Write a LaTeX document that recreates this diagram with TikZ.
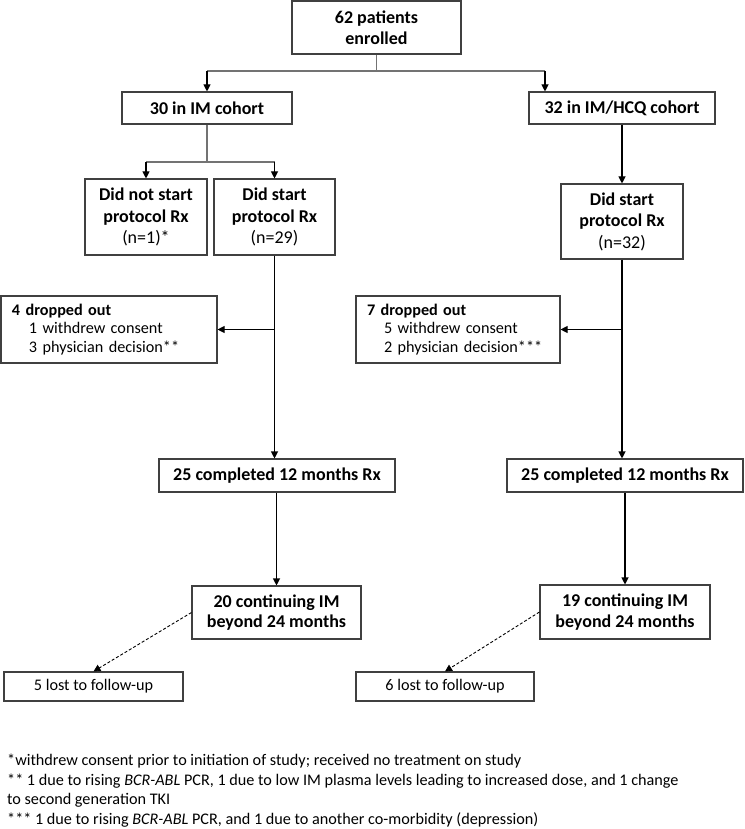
\documentclass[tikz,border=0pt]{standalone}
\usepackage{fontspec}
\setmainfont{Carlito}
\usetikzlibrary{arrows.meta}
\begin{document}
\begin{tikzpicture}[x=1pt,y=1pt,
  box/.style={draw=black!75, line width=1.1pt, align=center, inner sep=2pt, font=\fontsize{18}{21.5}\selectfont\bfseries},
  smallbox/.style={draw=black!75, line width=1.1pt, align=center, inner sep=2pt, font=\fontsize{16.2}{18.5}\selectfont},
  dropbox/.style={draw=black!75, line width=1.1pt, align=left, inner xsep=11pt, inner ysep=2pt, font=\fontsize{16.2}{18.5}\selectfont},
  conn/.style={line width=1.1pt, black},
  gconn/.style={line width=1.1pt, black!55},
  arr/.style={conn, -{Triangle[length=7pt,width=7pt]}},
  darr/.style={line width=0.9pt, black, dash pattern=on 3pt off 2pt, -{Triangle[length=7pt,width=7pt]}},
  foot/.style={anchor=north west, align=left, inner sep=0pt, font=\fontsize{16.2}{19.5}\selectfont}
]
\useasboundingbox (0,0) rectangle (744,-829);

\node[box, minimum width=169pt, minimum height=53pt] (top) at (376.5,-27.5) {62 patients\\enrolled};
\node[box, minimum width=170pt, minimum height=32pt] (imc) at (207,-108) {30 in IM cohort};
\node[box, minimum width=186pt, minimum height=32pt] (hcq) at (622,-108) {32 in IM/HCQ cohort};

\node[box, minimum width=122pt, minimum height=76pt] (dns) at (146,-217) {Did not start\\protocol Rx\\{\mdseries (n=1)*}};
\node[box, minimum width=121pt, minimum height=76pt] (ds1) at (274.5,-217) {Did start\\protocol Rx\\{\mdseries (n=29)}};
\node[box, minimum width=122pt, minimum height=75pt] (ds2) at (622,-221.5) {Did start\\protocol Rx\\{\mdseries (n=32)}};

\node[dropbox, text width=194pt, minimum height=67pt] (drop1) at (109,-329.5) {\textbf{4 dropped out}\\\hspace*{17pt}1 withdrew consent\\\hspace*{17pt}3 physician decision**};
\node[dropbox, text width=182pt, minimum height=67pt] (drop2) at (458,-329.5) {\textbf{7 dropped out}\\\hspace*{17pt}5 withdrew consent\\\hspace*{17pt}2 physician decision***};

\node[box, minimum width=236pt, minimum height=33pt] (c1) at (277,-475.5) {25 completed 12 months Rx};
\node[box, minimum width=236pt, minimum height=33pt] (c2) at (625,-475.5) {25 completed 12 months Rx};

\node[box, font=\fontsize{18}{20.7}\selectfont\bfseries, minimum width=169pt, minimum height=53pt] (ct1) at (276.5,-612.5) {20 continuing IM\\beyond 24 months};
\node[box, font=\fontsize{18}{20.7}\selectfont\bfseries, minimum width=170pt, minimum height=54pt] (ct2) at (625,-612) {19 continuing IM\\beyond 24 months};

\node[smallbox, minimum width=179pt, minimum height=29pt] (lost1) at (93.5,-686.5) {5 lost to follow-up};
\node[smallbox, minimum width=178pt, minimum height=29pt] (lost2) at (445,-686.5) {6 lost to follow-up};

\node[foot] (fn) at (7,-754) {*withdrew consent prior to initiation of study; received no treatment on study\\
** 1 due to rising \textit{BCR-ABL} PCR, 1 due to low IM plasma levels leading to increased dose, and 1 change\\
to second generation TKI\\
*** 1 due to rising \textit{BCR-ABL} PCR, and 1 due to another co-morbidity (depression)};

% top split
\coordinate (s0) at (376.5,-71);
\coordinate (s0L) at (207,-71);
\coordinate (s0R) at (545,-71);
\draw[gconn] (top.south) -- (s0);
\draw[gconn] (s0L) -- (s0R);
\draw[arr] (s0L) -- (s0L |- imc.north);
\draw[arr] (s0R) -- (s0R |- hcq.north);

% IM cohort split
\coordinate (s1) at (207,-162);
\coordinate (s1L) at (146,-162);
\coordinate (s1R) at (274.5,-162);
\draw[gconn] (imc.south) -- (s1);
\draw[gconn] (s1L) -- (s1R);
\draw[arr] (s1L) -- (dns.north);
\draw[arr] (s1R) -- (ds1.north);

% HCQ cohort
\draw[arr] (hcq.south) -- (ds2.north);

% main verticals
\draw[arr] (ds1.south) -- (ds1.south |- c1.north);
\draw[arr] (ds2.south) -- (ds2.south |- c2.north);
\coordinate (j1) at (ds1.south |- drop1.east);
\coordinate (j2) at (ds2.south |- drop2.east);
\draw[arr] (j1) -- (drop1.east);
\draw[arr] (j2) -- (drop2.east);

\draw[arr] (c1.south -| ct1.north) -- (ct1.north);
\draw[arr] (c2.south -| ct2.north) -- (ct2.north);

% dashed
\draw[darr] (ct1.west) -- (lost1.north);
\draw[darr] (ct2.west) -- (lost2.north);
\end{tikzpicture}
\end{document}
